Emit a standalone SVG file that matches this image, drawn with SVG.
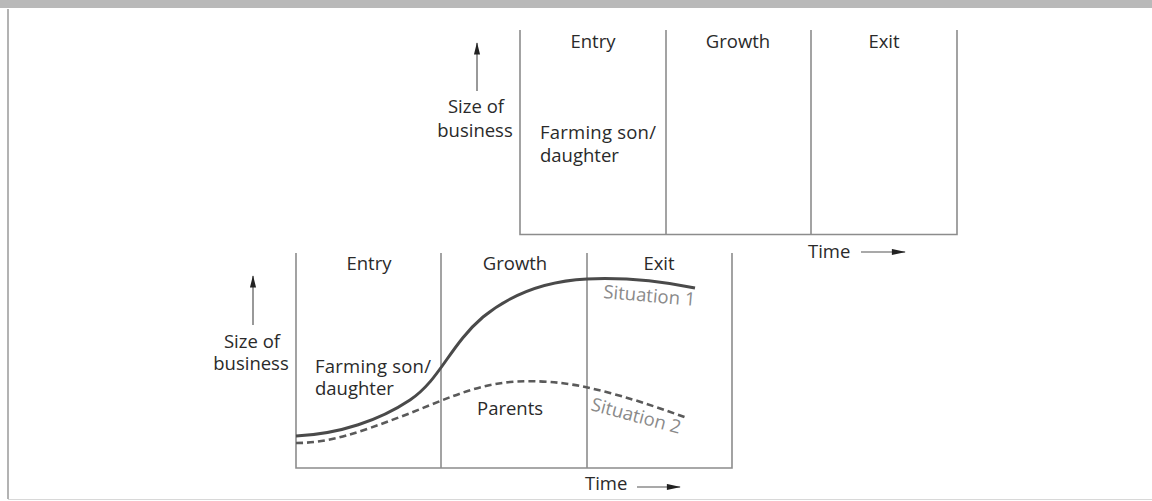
<svg xmlns="http://www.w3.org/2000/svg" width="1152" height="501" viewBox="0 0 1152 501">
<defs>
<style>
text{font-family:"Open Sans","Noto Sans","Liberation Sans",sans-serif;font-size:18.5px;fill:#2a2a2a}
.c{text-anchor:middle}
.g{fill:#8a8a8a}
.frame{stroke:#8c8c8c;stroke-width:1.6;fill:none}
.ax{stroke:#555;stroke-width:1.2;fill:none}
.curve{stroke:#4a4a4a;stroke-width:3;fill:none}
.dash{stroke:#5a5a5a;stroke-width:2.6;fill:none;stroke-dasharray:7 4}
</style>
<marker id="ah" viewBox="0 0 14 8" refX="13" refY="4" markerWidth="14" markerHeight="7" markerUnits="userSpaceOnUse" orient="auto">
<path d="M0,0.5 L14,4 L0,7.5 Z" fill="#222"/>
</marker>
<marker id="ah2" viewBox="0 0 16 8" refX="15" refY="4" markerWidth="16" markerHeight="7" markerUnits="userSpaceOnUse" orient="auto">
<path d="M0,0.5 L16,4 L0,7.5 Z" fill="#222"/>
</marker>
</defs>
<rect x="0" y="0" width="1152" height="501" fill="#ffffff"/>
<rect x="0" y="0" width="1152" height="8" fill="#b9b9b9"/>
<line x1="8" y1="9" x2="8" y2="499" stroke="#9a9a9a" stroke-width="1.5"/>
<line x1="8" y1="499.5" x2="1152" y2="499.5" stroke="#d8d8d8" stroke-width="1"/>

<g id="top-chart">
<polyline class="frame" points="520,30 520,234.5 957,234.5 957,30"/>
<line class="frame" x1="666" y1="30" x2="666" y2="234"/>
<line class="frame" x1="811" y1="30" x2="811" y2="234"/>
<text class="c" x="593" y="48">Entry</text>
<text class="c" x="738" y="48">Growth</text>
<text class="c" x="884" y="48">Exit</text>
<text class="c" x="476" y="113">Size of</text>
<text class="c" x="475" y="137">business</text>
<text x="540" y="139" textLength="116">Farming son/</text>
<text x="540" y="162">daughter</text>
<text x="808" y="258">Time</text>
</g>

<g id="bottom-chart">
<polyline class="frame" points="296,253 296,468 732,468 732,253"/>
<line class="frame" x1="441" y1="253" x2="441" y2="468"/>
<line class="frame" x1="587" y1="253" x2="587" y2="468"/>
<text class="c" x="369" y="270">Entry</text>
<text class="c" x="515" y="270">Growth</text>
<text class="c" x="659" y="270">Exit</text>
<text class="c" x="252" y="348">Size of</text>
<text class="c" x="251" y="370">business</text>
<text x="315" y="373" textLength="116">Farming son/</text>
<text x="315" y="395">daughter</text>
<text x="477" y="415">Parents</text>
<text class="g" x="603" y="298" transform="rotate(5 603 298)">Situation 1</text>
<text class="g" x="590" y="410" transform="rotate(15 590 410)">Situation 2</text>
<text x="585" y="490">Time</text>
</g>

<g id="connectors">
<line class="ax" x1="477" y1="91" x2="477" y2="43" marker-end="url(#ah)"/>
<line class="ax" x1="861" y1="252" x2="905" y2="252" marker-end="url(#ah2)"/>
<line class="ax" x1="253" y1="325" x2="253" y2="276" marker-end="url(#ah)"/>
<line class="ax" x1="637" y1="487" x2="680" y2="487" marker-end="url(#ah2)"/>
<path id="situation1" class="curve" d="M296,436 C340,434 380,420 410,400 C440,380 450,345 483,317 C510,295 545,281 587,279 C630,277 665,282 695,288"/>
<path id="situation2" class="dash" d="M296,443 C330,443 360,432 400,417 C440,402 470,386 510,382 C550,379 580,385 610,393 C640,401 665,410 687,418"/>
</g>
</svg>
